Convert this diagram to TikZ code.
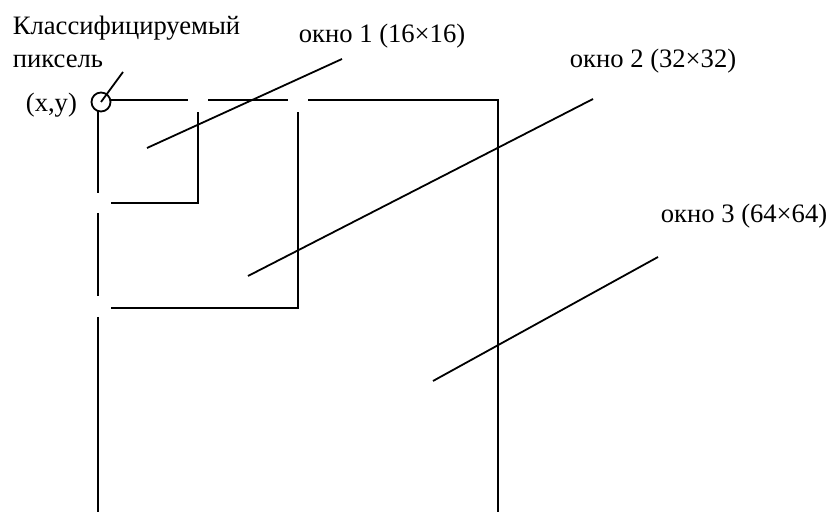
\documentclass[tikz,border=0pt]{standalone}
\usepackage{fontspec}
\setmainfont{Liberation Serif}
\usetikzlibrary{positioning}

\begin{document}
\begin{tikzpicture}[
      x=0.5pt, y=-0.5pt,
      line width=0.9pt,
      lbl/.style={inner sep=0pt, anchor=base west,
        font=\fontsize{13.3}{16}\selectfont},
      pixel/.style={draw, circle, inner sep=0pt, minimum size=9.5pt}
    ]
      \useasboundingbox (0,0) rectangle (827,512);
      % labels
      \node[lbl] (clslbl) at (12,35) {Классифицируемый};
      \node[lbl] (pixlbl) at (12,68) {пиксель};
      \node[lbl] (xylbl) at (25,112) {(x,y)};
      \node[lbl] (win1lbl) at (298,43) {окно 1 (16×16)};
      \node[lbl] (win2lbl) at (569,68) {окно 2 (32×32)};
      \node[lbl] (win3lbl) at (660,223) {окно 3 (64×64)};
      % window 3 (outer), broken on the left and top
      \draw (110,100) -- (188,100);
      \draw (208,100) -- (288,100);
      \draw (308,100) -- (498,100) -- (498,512);
      \draw (98,111) -- (98,193);
      \draw (98,213) -- (98,296);
      \draw (98,317) -- (98,512);
      % window 1 and window 2
      \draw (111,203) -- (198,203) -- (198,112);
      \draw (111,308) -- (298,308) -- (298,112);
      % classified pixel
      \node[pixel, fill=white] (pix) at (101,102) {};
      % leader lines
      \coordinate (pixtip) at (123,72);
      \coordinate (win1in) at (147,148);
      \coordinate (win1tip) at (342,59);
      \coordinate (win2in) at (248,276);
      \coordinate (win2tip) at (593,99);
      \coordinate (win3in) at (433,381);
      \coordinate (win3tip) at (658,257);
      \draw (pix.center) -- (pixtip);
      \draw (win1in) -- (win1tip);
      \draw (win2in) -- (win2tip);
      \draw (win3in) -- (win3tip);
    \end{tikzpicture}
\end{document}
